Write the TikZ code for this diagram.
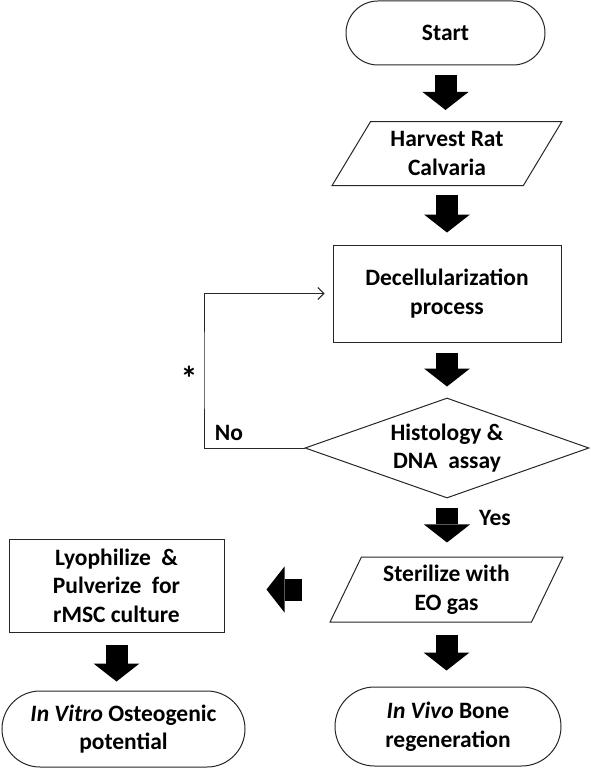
\documentclass[tikz,border=0pt]{standalone}
\usepackage{fontspec}
\setmainfont{Carlito}
\usetikzlibrary{shapes.geometric, shapes.misc, arrows.meta, calc}

\begin{document}
\begin{tikzpicture}[
    x=1pt, y=-1pt,
    box/.style={draw=black!85, line width=1pt, font=\fontsize{23.5}{28.5}\selectfont\bfseries, align=center, inner sep=0pt},
    term/.style={box, rounded rectangle},
    io/.style={box, trapezium, trapezium stretches=true},
    proc/.style={box, rectangle},
    dec/.style={box, diamond, aspect=2.84},
    blk/.style={line width=22pt, -{Triangle[width=46pt, length=18pt, line width=0pt]}},
    lbl/.style={font=\fontsize{23.5}{28.5}\selectfont\bfseries, inner sep=0pt}
]
\useasboundingbox (0,0) rectangle (590,768);

% Main column
\node[term, minimum width=199pt, minimum height=64pt] (start) at (445.5,33) {Start};
\node[io, trapezium left angle=57, trapezium right angle=123, minimum width=230pt, minimum height=64pt] (harvest) at (447,153.5) {Harvest Rat\\Calvaria};
\node[proc, minimum width=228pt, minimum height=97pt] (decel) at (447,293.5) {Decellularization\\process};
\node[dec, minimum width=284pt, minimum height=100pt] (check) at (447,448) {Histology \&\\DNA~~assay};
\node[io, trapezium left angle=64.5, trapezium right angle=115.5, minimum width=233pt, minimum height=65pt] (steril) at (446.5,589.5) {Sterilize with\\EO gas};
\node[term, minimum width=226pt, minimum height=79pt] (vivo) at (448,726.5) {\textit{In Vivo} Bone\\regeneration};

% Left column
\node[proc, minimum width=215pt, minimum height=93pt] (lyoph) at (116.5,585.5) {Lyophilize~~\&\\Pulverize~~for\\rMSC culture};
\node[term, minimum width=243pt, minimum height=76pt] (vitro) at (123.5,729) {\textit{In Vitro} Osteogenic\\potential};

% Block arrows
\draw[blk, shorten <=9pt, shorten >=11pt] (start.south) -- (start.south |- harvest.north);
\draw[blk, shorten <=9pt, shorten >=12pt] (harvest.south) -- (harvest.south |- decel.north);
\draw[blk, shorten <=10pt, shorten >=11pt] (decel.south) -- (decel.south |- check.north);
\draw[blk, shorten <=9pt, shorten >=14pt] (check.south) -- (check.south |- steril.north);
\draw[blk, shorten <=12pt, shorten >=16pt] (steril.south) -- (steril.south |- vivo.north);
\draw[blk, shorten <=12pt, shorten >=9pt] (lyoph.south) -- (lyoph.south |- vitro.north);
\draw[blk, shorten <=43pt, shorten >=42pt] (steril.west) -- (steril.west -| lyoph.east);

% Loop back
\coordinate (loopx) at (204,370);
\draw[line width=1pt, black!85, -{Straight Barb[length=6pt, width=12pt]}, shorten >=8pt] (check.west) -| (loopx) |- (decel.west);

% Labels
\node[lbl, font=\fontsize{34}{34}\selectfont\bfseries] (star) at (189,378) {*};
\node[lbl] (no) at (229,433) {No};
\node[lbl] (yes) at (495,518) {Yes};

\end{tikzpicture}
\end{document}
